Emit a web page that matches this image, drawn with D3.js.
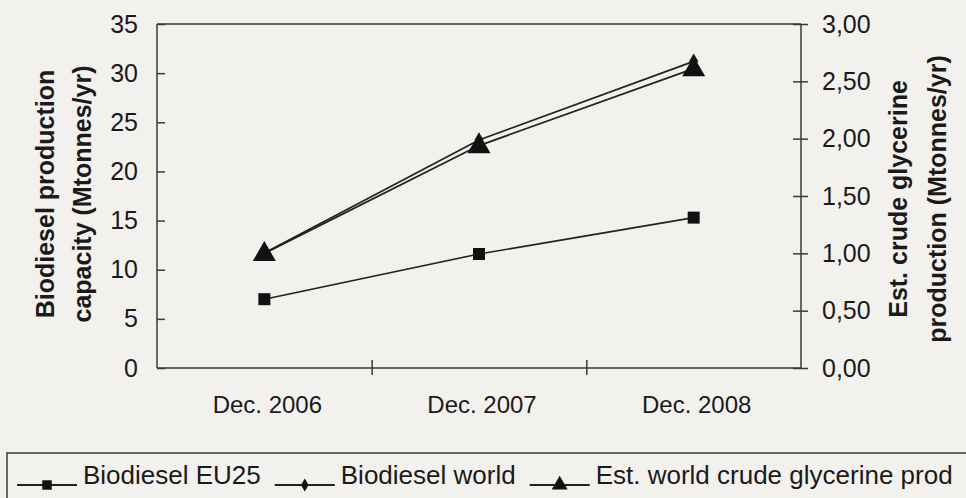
<!DOCTYPE html>
<html>
<head>
<meta charset="utf-8">
<script src="https://cdn.jsdelivr.net/npm/d3@7"></script>
<style>
  html, body { margin: 0; padding: 0; background: #f3f1ed; }
  svg { display: block; font-family: "Liberation Sans", Arial, sans-serif; }
</style>
</head>
<body>
<div id="chart"></div>
<script>
// chart data
var categories = ['Dec. 2006', 'Dec. 2007', 'Dec. 2008'];
var eu25 = [7.0, 11.6, 15.3];
var world = [11.7, 23.2, 31.2];
var glycerine = [1.00, 1.94, 2.61];
var leftTicks = [0, 5, 10, 15, 20, 25, 30, 35];
var rightTicks = [0, 0.5, 1.0, 1.5, 2.0, 2.5, 3.0];
var legendLabels = ['Biodiesel EU25', 'Biodiesel world', 'Est. world crude glycerine prod'];

var W = 966, H = 498;
var margin = { top: 24, right: 165, bottom: 130, left: 157 };
var width = W - margin.left - margin.right,
    height = H - margin.top - margin.bottom;

var svg = d3.select('#chart').append('svg')
    .attr('width', W)
    .attr('height', H);

svg.append('rect').attr('width', W).attr('height', H).attr('fill', '#f3f1ed');

var g = svg.append('g')
    .attr('transform', 'translate(' + margin.left + ',' + margin.top + ')');

// scales
var x = d3.scaleLinear().domain([0, categories.length]).range([0, width]);
var yL = d3.scaleLinear().domain([0, 35]).range([height, 0]);
var yR = d3.scaleLinear().domain([0, 3]).range([height, 0]);

var commaFmt = d3.formatLocale({ decimal: ',', thousands: '.', grouping: [3], currency: ['', ''] }).format('.2f');

var axisColor = '#3a3a3a';
var textColor = '#1a1a1a';

// top border of plot area
g.append('line')
    .attr('x1', 0).attr('x2', width)
    .attr('y1', 0).attr('y2', 0)
    .attr('stroke', axisColor).attr('stroke-width', 1.5);

// left axis
var gl = g.append('g')
    .call(d3.axisLeft(yL).tickValues(leftTicks).tickFormat(d3.format('d')).tickSize(8).tickPadding(11));
gl.selectAll('.tick line').attr('x2', 8);

// right axis
var gr = g.append('g')
    .attr('transform', 'translate(' + width + ',0)')
    .call(d3.axisRight(yR).tickValues(rightTicks).tickFormat(commaFmt).tickSize(8).tickPadding(13));
gr.selectAll('.tick line').attr('x2', 7).attr('x1', -8);

// bottom axis (ticks between categories)
var gb = g.append('g')
    .attr('transform', 'translate(0,' + height + ')')
    .call(d3.axisBottom(x).tickValues(d3.range(1, categories.length)).tickFormat('').tickSize(7));
gb.selectAll('.tick line').attr('y1', -8);

[gl, gr, gb].forEach(function (a) {
    a.select('.domain').attr('stroke', axisColor).attr('stroke-width', 1.5);
    a.selectAll('.tick line').attr('stroke', axisColor).attr('stroke-width', 1.5);
    a.selectAll('text').attr('font-size', '25px').attr('fill', textColor)
        .style('font-family', '"Liberation Sans", Arial, sans-serif');
});
gl.select('.domain').attr('d', 'M0,' + height + 'V0');
gr.select('.domain').attr('d', 'M0,' + height + 'V0');
gb.select('.domain').attr('d', 'M0,0H' + width);

// category labels
g.selectAll('.cat')
    .data(categories)
    .enter().append('text')
    .attr('class', 'cat')
    .attr('x', function (d, i) { return x(i + 0.5) + 3; })
    .attr('y', height + 45)
    .attr('text-anchor', 'middle')
    .attr('font-size', '24px')
    .attr('fill', textColor)
    .text(function (d) { return d; });

// axis titles
function vtitle(cx, cy, lines, dx) {
    lines.forEach(function (t, i) {
        svg.append('text')
            .attr('transform', 'translate(' + (cx + i * dx) + ',' + cy + ') rotate(-90)')
            .attr('text-anchor', 'middle')
            .attr('dominant-baseline', 'central')
            .attr('font-size', '25px')
            .attr('font-weight', 'bold')
            .attr('fill', textColor)
            .text(t);
    });
}
vtitle(45, 194, ['Biodiesel production', 'capacity (Mtonnes/yr)'], 37);
vtitle(898, 199, ['Est. crude glycerine', 'production  (Mtonnes/yr)'], 39);

// lines
var idx = d3.range(categories.length);
var lineColor = '#222';
function drawLine(values, scale, w) {
    g.append('path')
        .datum(idx)
        .attr('fill', 'none')
        .attr('stroke', lineColor)
        .attr('stroke-width', w)
        .attr('d', d3.line()
            .x(function (i) { return x(i + 0.5); })
            .y(function (i) { return scale(values[i]); }));
}
drawLine(eu25, yL, 1.6);
drawLine(glycerine, yR, 1.8);
drawLine(world, yL, 1.8);

// markers
var sym = {
    square: d3.symbol().type(d3.symbolSquare).size(144),
    diamond: d3.symbol().type(d3.symbolDiamond).size(70),
    triangle: d3.symbol().type(d3.symbolTriangle).size(230)
};
function drawMarkers(values, scale, shape, dy) {
    g.selectAll(null)
        .data(idx)
        .enter().append('path')
        .attr('transform', function (i) {
            return 'translate(' + x(i + 0.5) + ',' + (scale(values[i]) + (dy || 0)) + ')';
        })
        .attr('d', shape)
        .attr('fill', '#111');
}
drawMarkers(eu25, yL, sym.square);
drawMarkers(world, yL, sym.diamond);
drawMarkers(glycerine, yR, sym.triangle, 1);

// legend
var legY = 453;
svg.append('rect')
    .attr('x', 7).attr('y', legY)
    .attr('width', W + 10).attr('height', 80)
    .attr('fill', 'none')
    .attr('stroke', axisColor)
    .attr('stroke-width', 1.5);

var legShapes = [
    d3.symbol().type(d3.symbolSquare).size(90),
    d3.symbol().type(d3.symbolDiamond).size(50),
    d3.symbol().type(d3.symbolTriangle).size(110)
];
var lx = 17, ly = 485;
legendLabels.forEach(function (label, i) {
    svg.append('line')
        .attr('x1', lx).attr('x2', lx + 60)
        .attr('y1', ly).attr('y2', ly)
        .attr('stroke', lineColor).attr('stroke-width', 1.8);
    svg.append('path')
        .attr('transform', 'translate(' + (lx + 30) + ',' + ly + ')')
        .attr('d', legShapes[i])
        .attr('fill', '#111');
    var t = svg.append('text')
        .attr('x', lx + 66)
        .attr('y', ly - 1)
        .attr('font-size', '26px')
        .attr('fill', textColor)
        .text(label);
    lx = lx + 66 + t.node().getComputedTextLength() + 14;
});
</script>
</body>
</html>
